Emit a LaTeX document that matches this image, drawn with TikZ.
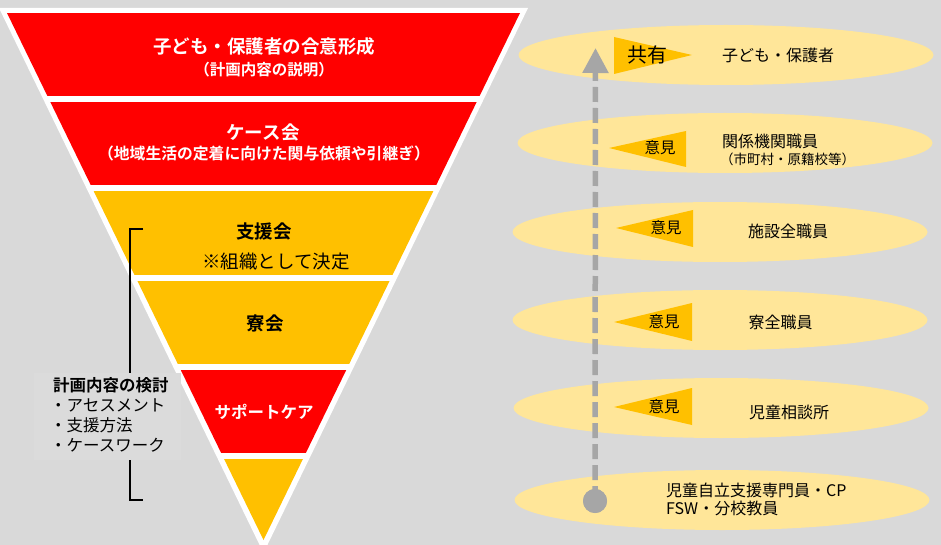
\documentclass[tikz,border=0pt]{standalone}
\usepackage{fontspec}
\setmainfont{Noto Sans CJK JP}[BoldFont={Noto Sans CJK JP Bold}]
\usetikzlibrary{shapes.geometric,arrows.meta}
\definecolor{bg}{HTML}{D9D9D9}
\definecolor{boxbg}{HTML}{DBDBDB}
\definecolor{fred}{HTML}{FF0000}
\definecolor{fyel}{HTML}{FFC000}
\definecolor{lyel}{HTML}{FFE699}
\definecolor{agray}{HTML}{A6A6A6}
\tikzset{
  wlab/.style={text=white, inner sep=0, font=\bfseries\fontsize{#1}{#1}\selectfont},
  blab/.style={text=black, inner sep=0, font=\bfseries\fontsize{#1}{#1}\selectfont},
  nlab/.style={text=black, inner sep=0, font=\fontsize{#1}{#1}\selectfont},
  oval/.style={ellipse, fill=lyel, minimum width=415, minimum height=60, inner sep=0},
  flag/.style={fill=fyel},
}
\begin{document}
\begin{tikzpicture}[x=1pt,y=-1pt]
\fill[bg] (0,0) rectangle (941,545);
\useasboundingbox (0,0) rectangle (941,545);

% funnel
\fill[white] (-1,8) -- (528,8) -- (263.5,553) -- cycle;
\begin{scope}
\clip (7,13) -- (520,13) -- (263.5,540) -- cycle;
\fill[fred] (0,13) rectangle (530,96);
\fill[fred] (0,102) rectangle (530,185);
\fill[fyel] (0,191) rectangle (530,275);
\fill[fyel] (0,281) rectangle (530,364);
\fill[fred] (0,370) rectangle (530,453);
\fill[fyel] (0,459) rectangle (530,545);
\end{scope}

\node[wlab=18.5] (t1) at (264,47) {子ども・保護者の合意形成};
\node[wlab=15.5] (t1s) at (264,70) {（計画内容の説明）};
\node[wlab=18.5] (t2) at (263,132) {ケース会};
\node[wlab=15.8] (t2s) at (264,153) {（地域生活の定着に向けた関与依頼や引継ぎ）};
\node[blab=18.5] (t3) at (264,231) {支援会};
\node[nlab=18.5] (t3s) at (276,262) {※組織として決定};
\node[blab=18.5] (t4) at (265,323) {寮会};
\node[wlab=16.5] (t5) at (264,412) {サポートケア};

% bracket and box
\coordinate (bt) at (143,229);
\coordinate (bb) at (143,500);
\draw[black, line width=1.3] (bt) -- (130,229) -- (130,500) -- (bb);
\fill[boxbg] (34,373) rectangle (181,460);
\node[blab=16.5, anchor=west] (k0) at (53,385) {計画内容の検討};
\node[nlab=16.5, anchor=west] (k1) at (50,405) {・アセスメント};
\node[nlab=16.5, anchor=west] (k2) at (50,425) {・支援方法};
\node[nlab=16.5, anchor=west] (k3) at (50,445) {・ケースワーク};

% ovals
\node[oval] (e1) at (726,55) {};
\node[oval] (e2) at (725,143) {};
\node[oval] (e3) at (720,232) {};
\node[oval] (e4) at (720,320) {};
\node[oval] (e5) at (721,408) {};
\node[oval] (e6) at (722,500) {};

% flags
\fill[flag] (614,37) -- (614,74) -- (692,55) -- cycle;
\node[nlab=20] (f1) at (647,55) {共有};
\fill[flag] (609,148) -- (686,131) -- (686,167) -- cycle;
\node[nlab=15.5] (f2) at (660,148) {意見};
\fill[flag] (616,228) -- (693,210) -- (693,247) -- cycle;
\node[nlab=15.5] (f3) at (666,228) {意見};
\fill[flag] (614,322) -- (692,303) -- (692,341) -- cycle;
\node[nlab=15.5] (f4) at (664,322) {意見};
\fill[flag] (614,407) -- (692,388) -- (692,425) -- cycle;
\node[nlab=15.5] (f5) at (664,407) {意見};

% oval texts
\node[nlab=16] (r1) at (778,55) {子ども・保護者};
\node[nlab=16, anchor=west] (r2) at (722,141) {関係機関職員};
\node[nlab=13.5, anchor=west] (r2s) at (720,159) {（市町村・原籍校等）};
\node[nlab=16] (r3) at (788,231) {施設全職員};
\node[nlab=16] (r4) at (780.5,322) {寮全職員};
\node[nlab=16] (r5) at (789,412) {児童相談所};
\node[nlab=16, anchor=west] (r6) at (666,490) {児童自立支援専門員・CP};
\node[nlab=16, anchor=west] (r6s) at (666,508) {FSW・分校教員};

% dashed arrow
\node[circle, fill=agray, minimum size=24, inner sep=0] (dot) at (595,501) {};
\coordinate (tip) at (595.5,48);
\draw[agray, line width=5.5, dash pattern=on 15 off 6, -{Triangle[width=25pt,length=25pt]}] (dot.center) -- (tip);
\node[circle, fill=agray, minimum size=24, inner sep=0] at (dot) {};
\end{tikzpicture}
\end{document}
